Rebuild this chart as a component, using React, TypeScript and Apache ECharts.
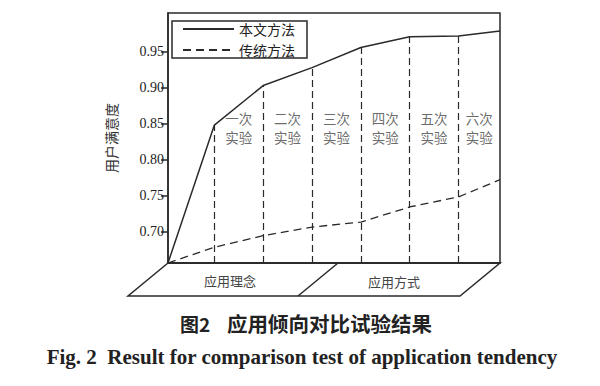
import React, { useEffect, useRef } from "react";
import * as echarts from "echarts";

// x positions: axis origin, experiments 1..6, right edge
const xPositions = [0.05, 1, 2, 3, 4, 5, 6, 6.85];
const experimentX = [1, 2, 3, 4, 5, 6];
const proposed = [0.656, 0.848, 0.903, 0.928, 0.956, 0.971, 0.972, 0.979];
const traditional = [0.656, 0.678, 0.694, 0.706, 0.713, 0.734, 0.748, 0.772];
const regionLabels = ["一次\n实验", "二次\n实验", "三次\n实验", "四次\n实验", "五次\n实验", "六次\n实验"];
const regionX = [1.5, 2.5, 3.5, 4.5, 5.5, 6.425];
const regionY = 0.845;
const yTicks = [0.7, 0.75, 0.8, 0.85, 0.9, 0.95];
const Y_MIN = 0.656;
const Y_MAX = 1.004;
const X_MIN = 0.05;
const X_MAX = 6.85;
const legendNames = ["本文方法", "传统方法"];
const floorLabels = ["应用理念", "应用方式"];
const captionCnFig = "图2";
const captionCn = "应用倾向对比试验结果";
const captionEn = "Fig. 2  Result for comparison test of application tendency";

const INK = "#2a2a2a";

export default function App() {
  const ref = useRef<HTMLDivElement>(null);
  useEffect(() => {
    document.body.style.margin = "0";
    const chart = echarts.init(ref.current!, null, { renderer: "svg" });
    const left = 168, top = 13, right = 100, bottom = 123;
    const gx0 = left, gx1 = 600 - right, gy1 = 386 - bottom;
    const depth = 33, shift = 40;
    const divX = 338;
    chart.setOption({
      animation: false,
      backgroundColor: "#fff",
      grid: { left, right, top, bottom, show: true, borderColor: INK, borderWidth: 1.5, backgroundColor: "transparent" },
      legend: {
        orient: "vertical",
        left: 172,
        top: 21,
        data: legendNames,
        itemWidth: 51,
        itemHeight: 14,
        itemGap: 7,
        padding: [1, 12, 1, 10],
        borderColor: INK,
        borderWidth: 1.5,
        itemStyle: { opacity: 0, borderWidth: 0 },
        textStyle: { fontSize: 14, color: "#222", fontFamily: "Noto Sans CJK SC" },
      },
      xAxis: {
        type: "value",
        min: X_MIN,
        max: X_MAX,
        axisLine: { show: true, lineStyle: { color: INK, width: 1.5 } },
        axisTick: { show: false },
        axisLabel: { show: false },
        splitLine: { show: false },
      },
      yAxis: {
        type: "value",
        min: Y_MIN,
        max: Y_MAX,
        name: "用户满意度",
        nameLocation: "middle",
        nameGap: 50,
        nameRotate: 90,
        nameTextStyle: { fontSize: 14, color: "#333", fontFamily: "Noto Sans CJK SC" },
        axisLine: { show: true, lineStyle: { color: INK, width: 1.5 } },
        axisTick: { show: true, customValues: yTicks, length: 7, lineStyle: { color: INK, width: 1.5 } },
        axisLabel: {
          customValues: yTicks,
          formatter: (v: number) => v.toFixed(2),
          fontSize: 14,
          color: "#222",
          fontFamily: "Liberation Serif",
          margin: 4,
        },
        splitLine: { show: false },
      },
      series: [
        {
          name: legendNames[0],
          type: "line",
          symbol: "none",
          data: xPositions.map((x, i) => [x, proposed[i]]),
          lineStyle: { color: INK, width: 1.5, type: "solid" },
          itemStyle: { color: INK },
          markLine: {
            silent: true,
            symbol: "none",
            label: { show: false },
            lineStyle: { color: INK, width: 1.2, type: [7, 4] },
            data: experimentX.map((x) => {
              const i = xPositions.indexOf(x);
              return [{ coord: [x, Y_MIN] }, { coord: [x, proposed[i]] }];
            }),
          },
        },
        {
          name: legendNames[1],
          type: "line",
          symbol: "none",
          data: xPositions.map((x, i) => [x, traditional[i]]),
          lineStyle: { color: INK, width: 1.3, type: [8, 5] },
          itemStyle: { color: INK },
        },
        {
          type: "scatter",
          symbolSize: 1,
          itemStyle: { color: "rgba(0,0,0,0)" },
          silent: true,
          data: regionX.map((x, i) => ({ value: [x, regionY], name: regionLabels[i] })),
          label: {
            show: true,
            position: "inside",
            formatter: (p: any) => p.name,
            fontSize: 13.5,
            lineHeight: 19,
            color: "#444",
            fontFamily: "Noto Sans CJK SC",
          },
        },
      ],
      graphic: [
        {
          type: "polygon",
          silent: true,
          shape: { points: [[gx0, gy1], [gx0 - shift, gy1 + depth], [gx1 - shift, gy1 + depth], [gx1, gy1]] },
          style: { fill: "none", stroke: INK, lineWidth: 1.5 },
        },
        {
          type: "line",
          silent: true,
          shape: { x1: divX, y1: gy1, x2: divX - shift, y2: gy1 + depth },
          style: { stroke: INK, lineWidth: 1.5 },
        },
        {
          type: "text",
          x: 230,
          y: 280,
          style: { text: floorLabels[0], fontSize: 13, fill: "#444", align: "center", verticalAlign: "middle", fontFamily: "Noto Sans CJK SC" },
        },
        {
          type: "text",
          x: 394,
          y: 281,
          style: { text: floorLabels[1], fontSize: 13, fill: "#444", align: "center", verticalAlign: "middle", fontFamily: "Noto Sans CJK SC" },
        },
        {
          type: "text",
          x: 180,
          y: 323,
          style: { text: captionCnFig, fontSize: 19, fontWeight: "bold", fill: "#222", align: "left", verticalAlign: "middle", fontFamily: "Noto Sans CJK SC" },
        },
        {
          type: "text",
          x: 227,
          y: 323,
          style: { text: captionCn, fontSize: 20.5, fontWeight: "bold", fill: "#222", align: "left", verticalAlign: "middle", fontFamily: "Noto Sans CJK SC" },
        },
        {
          type: "text",
          x: 302,
          y: 357,
          style: { text: captionEn, fontSize: 21, fontWeight: "bold", fill: "#222", align: "center", verticalAlign: "middle", fontFamily: "Liberation Serif" },
        },
      ],
    });
    return () => chart.dispose();
  }, []);
  return <div ref={ref} style={{ width: 600, height: 386 }} />;
}
